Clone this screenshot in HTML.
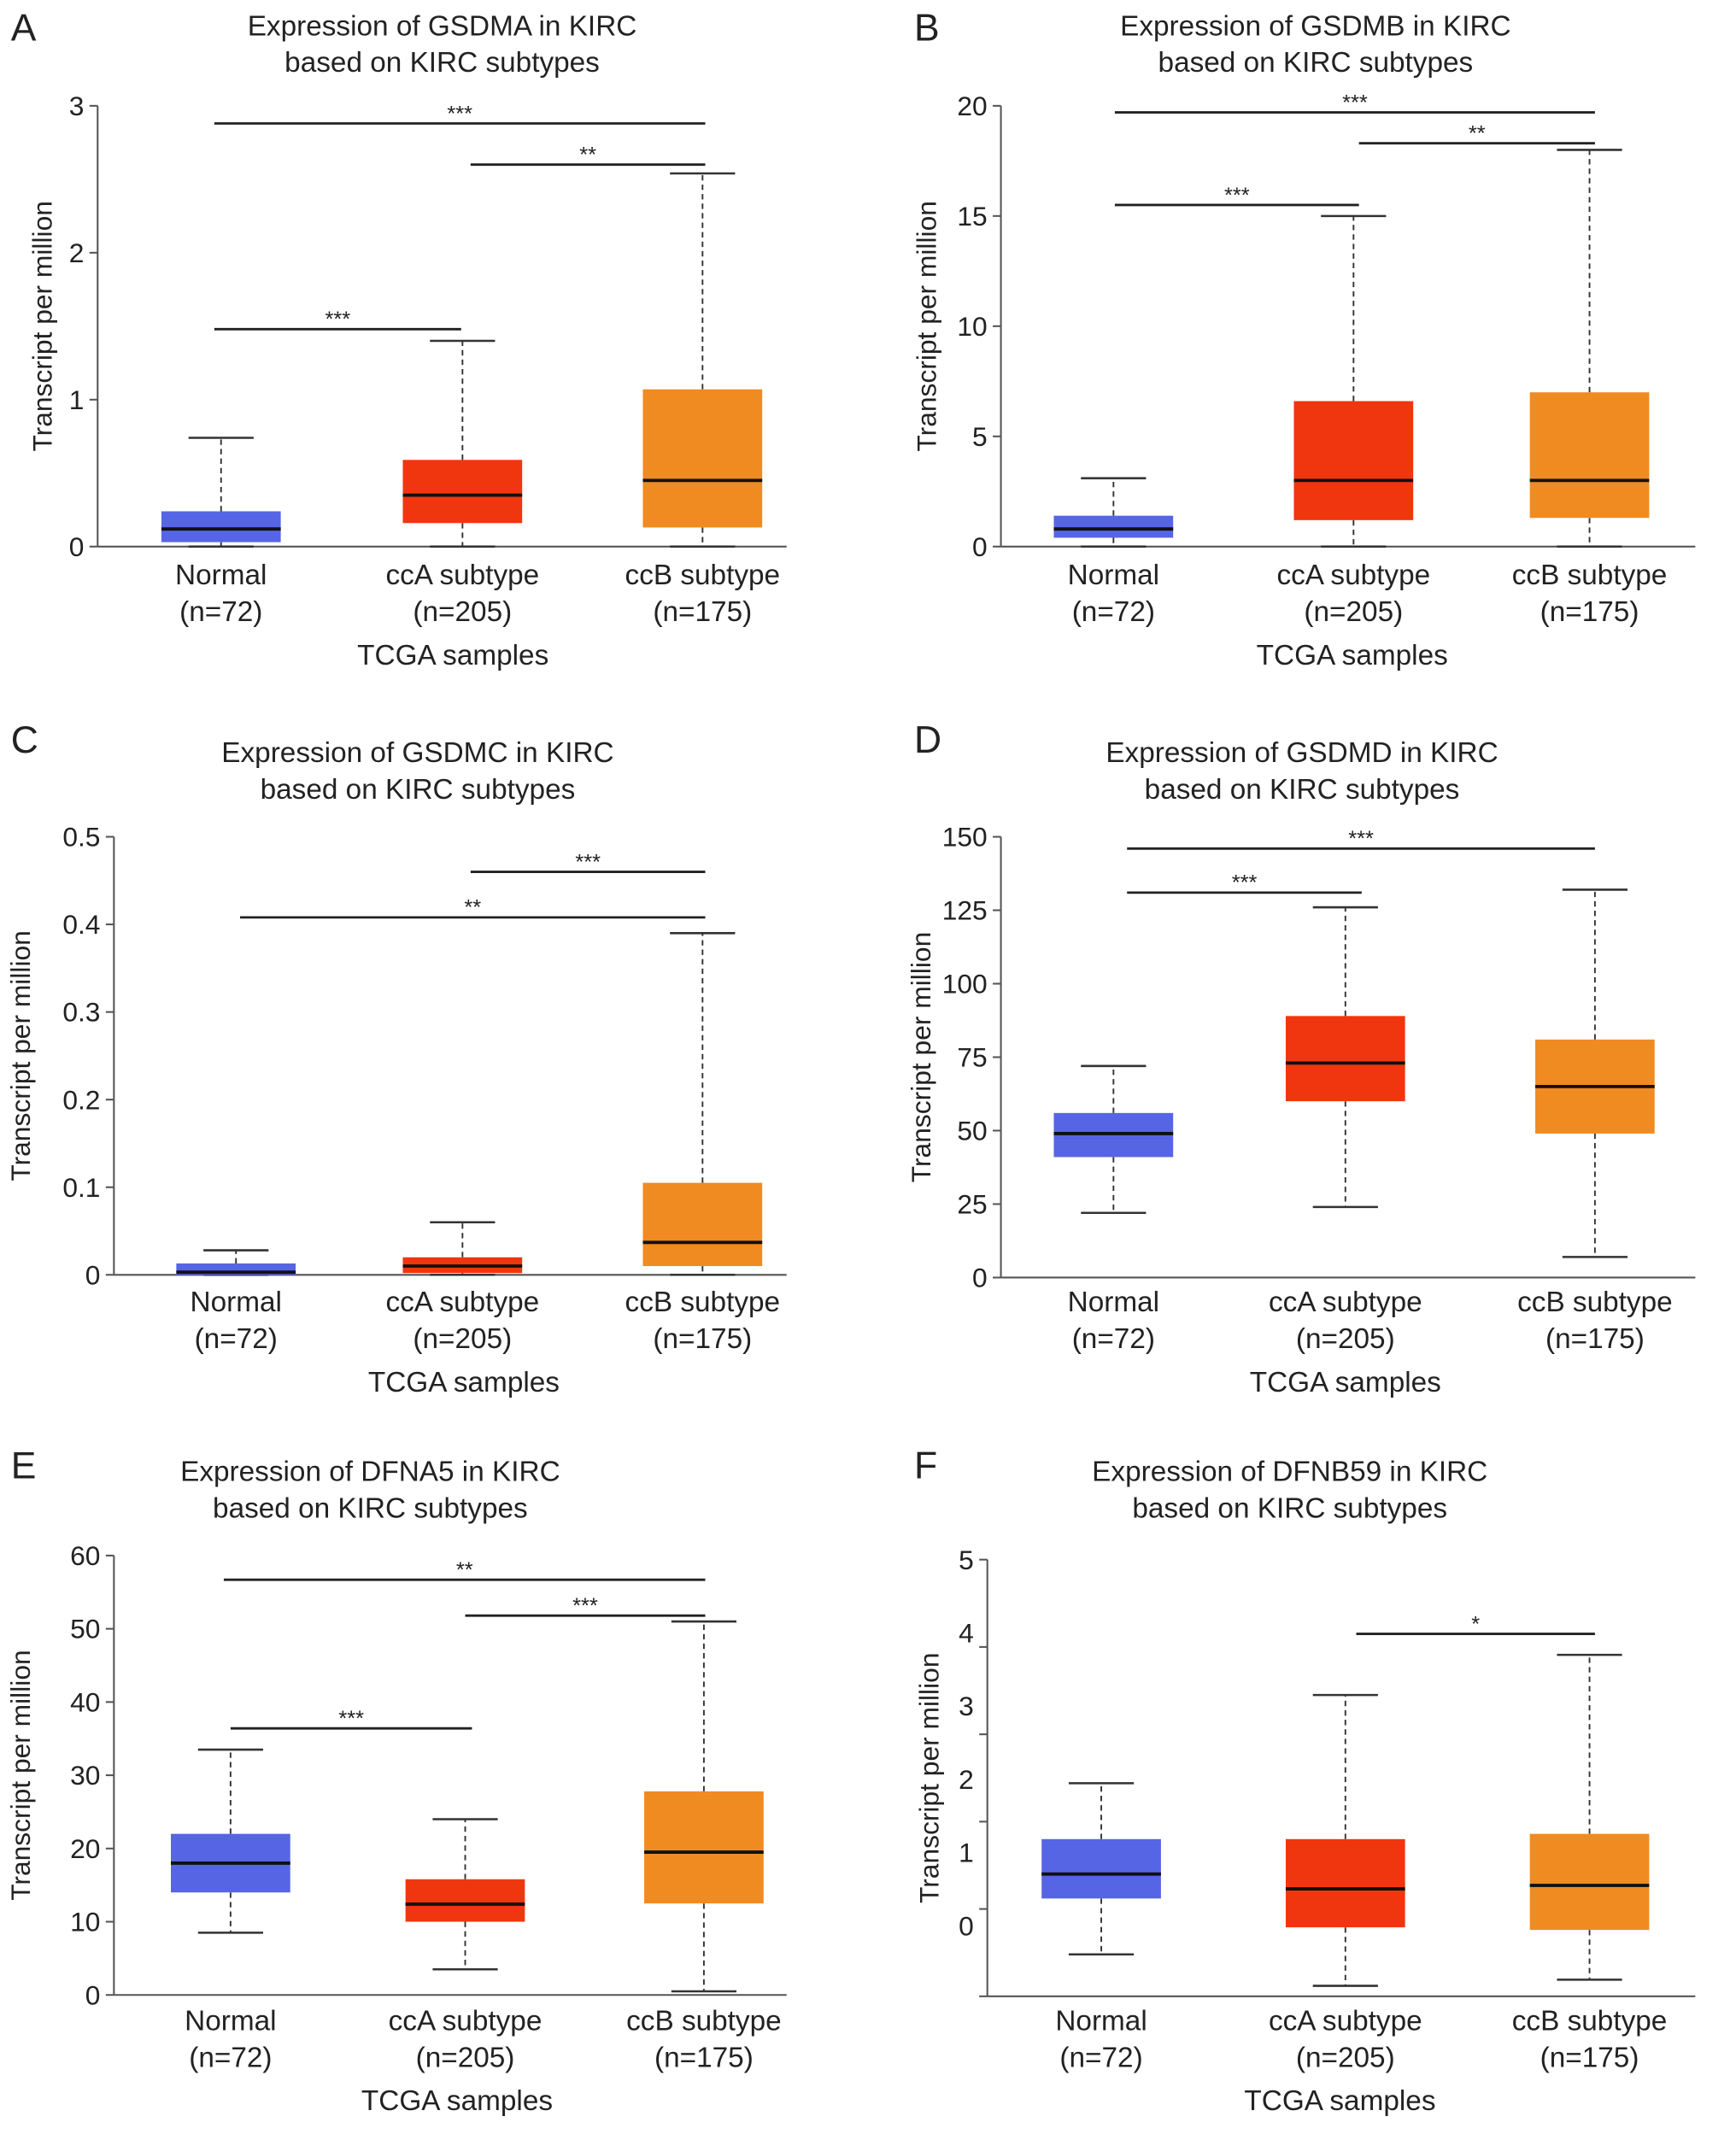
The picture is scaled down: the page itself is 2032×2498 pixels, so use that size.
<!DOCTYPE html>
<html><head><meta charset="utf-8"><style>html,body{margin:0;padding:0;background:#fff}svg{display:block}text{font-family:"Liberation Sans",Arial,sans-serif;fill:#222}</style></head>
<body>
<svg id="fig" width="2032" height="2498" viewBox="0 0 1280 1573.5" xmlns="http://www.w3.org/2000/svg"></svg>
<script>
const categories = ["Normal","ccA subtype","ccB subtype"];
const counts = ["(n=72)","(n=205)","(n=175)"];
// Panel A GSDMA
const aQ1=[0.03,0.16,0.13], aMed=[0.12,0.35,0.45], aQ3=[0.24,0.59,1.07], aLo=[0,0,0], aHi=[0.74,1.4,2.54];
const aTicks=[0,1,2,3];
const aSig=[[0,2,2.88,"***"],[1,2,2.6,"**"],[0,1,1.48,"***"]];
// Panel B GSDMB
const bQ1=[0.4,1.2,1.3], bMed=[0.8,3.0,3.0], bQ3=[1.4,6.6,7.0], bLo=[0,0,0], bHi=[3.1,15,18];
const bTicks=[0,5,10,15,20];
const bSig=[[0,2,19.7,"***"],[1,2,18.3,"**"],[0,1,15.5,"***"]];
// Panel C GSDMC
const cQ1=[0,0.002,0.01], cMed=[0.003,0.01,0.037], cQ3=[0.013,0.02,0.105], cLo=[0,0,0], cHi=[0.028,0.06,0.39];
const cTicks=[0,0.1,0.2,0.3,0.4,0.5];
const cSig=[[1,2,0.46,"***"],[0,2,0.408,"**"]];
// Panel D GSDMD
const dQ1=[41,60,49], dMed=[49,73,65], dQ3=[56,89,81], dLo=[22,24,7], dHi=[72,126,132];
const dTicks=[0,25,50,75,100,125,150];
const dSig=[[0,2,146,"***"],[0,1,131,"***"]];
// Panel E DFNA5
const eQ1=[14,10,12.5], eMed=[18,12.4,19.5], eQ3=[22,15.8,27.8], eLo=[8.5,3.5,0.5], eHi=[33.5,24,51];
const eTicks=[0,10,20,30,40,50,60];
const eSig=[[0,2,56.7,"**"],[1,2,51.8,"***"],[0,1,36.4,"***"]];
// Panel F DFNB59
const fQ1=[1.12,0.79,0.76], fMed=[1.4,1.23,1.27], fQ3=[1.8,1.8,1.86], fLo=[0.48,0.12,0.19], fHi=[2.44,3.45,3.91];
const fTicks=[0,1,2,3,4,5];
const fSig=[[1,2,4.15,"*"]];

const colors=["#5665e4","#f0360f","#ef8b21"];
const svg=document.getElementById('fig');
const NS="http://www.w3.org/2000/svg";
function mk(tag,attrs,parent){const e=document.createElementNS(NS,tag);for(const k in attrs)e.setAttribute(k,attrs[k]);(parent||svg).appendChild(e);return e;}

const panels=[
 {L:"A",gene:"GSDMA",lx:8,ly:30,tx:326,ty:26,ax:72,y0:403,y1:78,xe:580,max:3,cx:[163,341,518],ytx:38,q1:aQ1,med:aMed,q3:aQ3,lo:aLo,hi:aHi,ticks:aTicks,sig:aSig,sx:[[158,340],[158,520],[347,520]],tc:334,ct:424},
 {L:"B",gene:"GSDMB",lx:674,ly:30,tx:970,ty:26,ax:738,y0:403,y1:78,xe:1250,max:20,cx:[821,998,1172],ytx:690,q1:bQ1,med:bMed,q3:bQ3,lo:bLo,hi:bHi,ticks:bTicks,sig:bSig,sx:[[822,1002],[822,1176],[1002,1176]],tc:997,ct:424},
 {L:"C",gene:"GSDMC",lx:8,ly:555,tx:308,ty:562,ax:84,y0:940,y1:617,xe:580,max:0.5,cx:[174,341,518],ytx:22,q1:cQ1,med:cMed,q3:cQ3,lo:cLo,hi:cHi,ticks:cTicks,sig:cSig,sx:[[177,347],[177,520],[347,520]],tc:342,ct:960},
 {L:"D",gene:"GSDMD",lx:674,ly:555,tx:960,ty:562,ax:738,y0:942,y1:617,xe:1250,max:150,cx:[821,992,1176],ytx:686,q1:dQ1,med:dMed,q3:dQ3,lo:dLo,hi:dHi,ticks:dTicks,sig:dSig,sx:[[831,1004],[831,1176],[1004,1176]],tc:992,ct:960},
 {L:"E",gene:"DFNA5",lx:8,ly:1090,tx:273,ty:1092,ax:84,y0:1471,y1:1147,xe:580,max:60,cx:[170,343,519],ytx:22,q1:eQ1,med:eMed,q3:eQ3,lo:eLo,hi:eHi,ticks:eTicks,sig:eSig,sx:[[170,348],[165,520],[343,520]],tc:337,ct:1490},
 {L:"F",gene:"DFNB59",lx:674,ly:1090,tx:951,ty:1092,ax:728,y0:1472,y1:1150,xe:1250,max:5,cx:[812,992,1172],ytx:692,q1:fQ1,med:fMed,q3:fQ3,lo:fLo,hi:fHi,ticks:fTicks,sig:fSig,sx:[[812,992],[812,1176],[1000,1176]],tc:988,ct:1490,oddLabels:true}
];

panels.forEach(p=>{
 const g=mk('g',{});
 
 
 const y=v=>p.y0-(v/p.max)*(p.y0-p.y1);
 const lab=mk('text',{x:p.lx,y:p.ly,'font-size':28},g);lab.textContent=p.L;
 
 const t1=mk('text',{x:p.tx,y:p.ty,'font-size':21,'text-anchor':'middle'},g);t1.textContent='Expression of '+p.gene+' in KIRC';
 
 const t2=mk('text',{x:p.tx,y:p.ty+27,'font-size':21,'text-anchor':'middle'},g);t2.textContent='based on KIRC subtypes';
 
 const ya=mk('line',{x1:p.ax,y1:p.y1,x2:p.ax,y2:p.y0,stroke:'#555','stroke-width':1.3},g);
 
 const xa=mk('line',{x1:p.ax,y1:p.y0,x2:p.xe,y2:p.y0,stroke:'#555','stroke-width':1.3},g);
 
 p.ticks.forEach(v=>{
  const tm=mk('line',{x1:p.ax-6,y1:y(v),x2:p.ax,y2:y(v),stroke:'#555','stroke-width':1.3},g);
  
  const ly=p.oddLabels? p.y1+(p.max-v)*54 : y(v);
  const tl=mk('text',{x:p.ax-10,y:ly+7,'font-size':20,'text-anchor':'end'},g);tl.textContent=String(v);
  
 });
 const yc=(p.y0+p.y1)/2;
 const yt=mk('text',{x:p.ytx,y:yc,'font-size':20,'text-anchor':'middle',transform:`rotate(-90 ${p.ytx} ${yc})`},g);yt.textContent='Transcript per million';
 
 categories.forEach((c,i)=>{
  const cx=p.cx[i],hw=44,cw=24;
  const w1=mk('line',{x1:cx,y1:y(p.q3[i]),x2:cx,y2:y(p.hi[i]),stroke:'#333','stroke-width':1.2,'stroke-dasharray':'4,3'},g);
  
  const w2=mk('line',{x1:cx,y1:y(p.q1[i]),x2:cx,y2:y(p.lo[i]),stroke:'#333','stroke-width':1.2,'stroke-dasharray':'4,3'},g);
  
  const c1=mk('line',{x1:cx-cw,y1:y(p.hi[i]),x2:cx+cw,y2:y(p.hi[i]),stroke:'#333','stroke-width':1.6},g);
  
  const c2=mk('line',{x1:cx-cw,y1:y(p.lo[i]),x2:cx+cw,y2:y(p.lo[i]),stroke:'#333','stroke-width':1.6},g);
  
  const b=mk('rect',{x:cx-hw,y:y(p.q3[i]),width:hw*2,height:Math.max(1,y(p.q1[i])-y(p.q3[i])),fill:colors[i]},g);
  
  const m=mk('line',{x1:cx-hw,y1:y(p.med[i]),x2:cx+hw,y2:y(p.med[i]),stroke:'#111','stroke-width':2.4},g);
  
  const cl=mk('text',{x:cx,y:p.ct+7,'font-size':21,'text-anchor':'middle'},g);cl.textContent=c;
  
  const nl=mk('text',{x:cx,y:p.ct+34,'font-size':21,'text-anchor':'middle'},g);nl.textContent=counts[i];
  
 });
 const xt=mk('text',{x:p.tc,y:p.ct+66,'font-size':21,'text-anchor':'middle'},g);xt.textContent='TCGA samples';
 
 p.sig.forEach(s=>{
  const key=(s[0]===0&&s[1]===1)?0:(s[0]===0?1:2);
  const xs=p.sx[key];
  const sl=mk('line',{x1:xs[0],y1:y(s[2]),x2:xs[1],y2:y(s[2]),stroke:'#222','stroke-width':1.8},g);
  
  const st=mk('text',{x:(xs[0]+xs[1])/2,y:y(s[2])-2,'font-size':16,'text-anchor':'middle'},g);st.textContent=s[3];
  
 });
});
</script>
</body></html>
